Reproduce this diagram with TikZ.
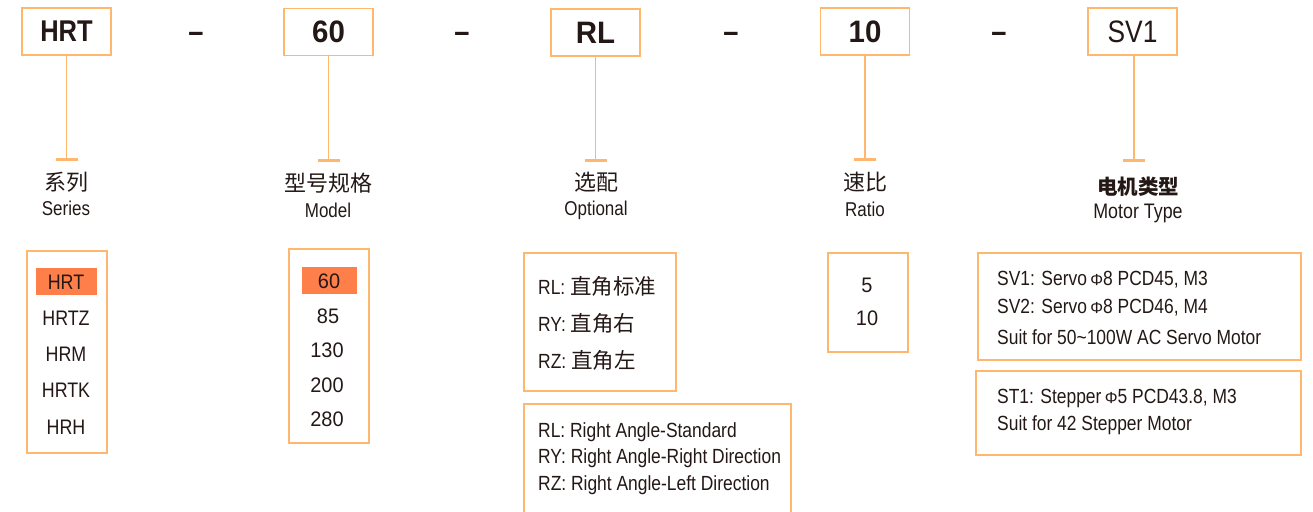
\documentclass[tikz,border=0pt]{standalone}
\usepackage{fontspec}
\setmainfont{Liberation Sans}[FakeStretch=0.85]
\newfontfamily\wide{Liberation Sans}[FakeStretch=0.95]
\newfontfamily\cjk{Noto Sans CJK SC}
\usetikzlibrary{arrows.meta}
\definecolor{bord}{HTML}{FFB66E}
\definecolor{hil}{HTML}{FF7F4A}
\definecolor{ink}{HTML}{231815}
\tikzset{
  codebox/.style={draw=bord, line width=1.6pt, minimum width=89pt, minimum height=47pt, inner sep=0pt, font=\fontsize{30}{30}\selectfont\bfseries, text=ink},
  sep/.style={font=\fontsize{32}{32}\selectfont\bfseries, text=ink, inner sep=0pt},
  tline/.style={draw=bord, line width=1.8pt, -{Bar[width=22pt,line width=3pt]}},
  cn/.style={font=\cjk\fontsize{22}{22}\selectfont, text=ink, inner sep=0pt},
  en/.style={font=\fontsize{20}{20}\selectfont, text=ink, inner sep=0pt},
  frame/.style={draw=bord, line width=1.4pt},
  item/.style={font=\fontsize{21}{21}\selectfont, text=ink, inner sep=0pt},
  ltxt/.style={font=\fontsize{20.5}{20.5}\selectfont, text=ink, inner sep=0pt, anchor=west},
  stxt/.style={font=\fontsize{20.5}{20.5}\selectfont, text=ink, inner sep=0pt, anchor=west},
}
\newcommand{\cjkt}[1]{{\cjk\fontsize{21.5}{21.5}\selectfont #1}}
\newcommand{\phis}{{\fontsize{16}{16}\selectfont\addfontfeature{FakeStretch=1.0}Φ}}
\begin{document}
\begin{tikzpicture}[x=1pt,y=-1pt]
\useasboundingbox (0,0) rectangle (1313,511);
\clip (0,0) rectangle (1313,511);
% top code boxes
\node[codebox] (b1) at (66.5,31.5) {HRT};
\node[codebox, font=\wide\bfseries\fontsize{31}{31}\selectfont] (b2) at (328.5,32) {60};
\node[codebox, font=\wide\bfseries\fontsize{31}{31}\selectfont] (b3) at (595.5,32.5) {RL};
\node[codebox, font=\wide\bfseries\fontsize{31}{31}\selectfont] (b4) at (865,31.5) {10};
\node[codebox, font=\fontsize{31}{31}\selectfont] (b5) at (1132.5,31.5) {SV1};
% separators
\node[sep] (s1) at (196,37.5) {–};
\node[sep] (s2) at (462,37.5) {–};
\node[sep] (s3) at (731,37.5) {–};
\node[sep] (s4) at (999,37.5) {–};
% connector ends
\coordinate (e1) at (66.5,161);
\coordinate (e2) at (328.5,162);
\coordinate (e3) at (595.5,162);
\coordinate (e4) at (865,161);
\coordinate (e5) at (1134,162);
\draw[tline] (b1.south) -- (e1);
\draw[tline] (b2.south) -- (e2);
\draw[tline] (b3.south) -- (e3);
\draw[tline] (b4.south) -- (e4);
\draw[tline] (b5.south -| e5) -- (e5);
% labels
\node[cn] (c1) at (66,182) {系列};
\node[en] (n1) at (66,208) {Series};
\node[cn] (c2) at (328,183) {型号规格};
\node[en] (n2) at (328,210) {Model};
\node[cn] (c3) at (596,182) {选配};
\node[en] (n3) at (596,210) {Optional};
\node[cn] (c4) at (865,182) {速比};
\node[en] (n4) at (865,209) {Ratio};
\node[cn, font=\cjk\bfseries\fontsize{20.5}{20.5}\selectfont] (c5) at (1138,187) {电机类型};
\node[en, font=\fontsize{21}{21}\selectfont] (n5) at (1138,213) {Motor Type};
% series list
\draw[frame] (27,251) rectangle (107,453);
\fill[hil] (36,268) rectangle (97,295);
\node[item] (i11) at (66,282) {HRT};
\node[item] (i12) at (66,318) {HRTZ};
\node[item] (i13) at (66,354) {HRM};
\node[item] (i14) at (66,390) {HRTK};
\node[item] (i15) at (66,427) {HRH};
% model list
\draw[frame] (289,249) rectangle (369,443);
\fill[hil] (302,267) rectangle (357,294);
\node[item, font=\wide\fontsize{21}{21}\selectfont] (i21) at (329,281) {60};
\node[item, font=\wide\fontsize{21}{21}\selectfont] (i22) at (328,316) {85};
\node[item, font=\wide\fontsize{21}{21}\selectfont] (i23) at (327,350) {130};
\node[item, font=\wide\fontsize{21}{21}\selectfont] (i24) at (327,385) {200};
\node[item, font=\wide\fontsize{21}{21}\selectfont] (i25) at (327,419) {280};
% optional cn
\draw[frame] (524,253) rectangle (676,391);
\node[ltxt] (o1) at (538,286) {RL: \cjkt{直角标准}};
\node[ltxt] (o2) at (538,323) {RY: \cjkt{直角右}};
\node[ltxt] (o3) at (538,360) {RZ: \cjkt{直角左}};
% optional en
\draw[frame] (524,404) rectangle (791,530);
\node[stxt] (p1) at (538,432) {RL: Right Angle-Standard};
\node[stxt] (p2) at (538,458) {RY: Right Angle-Right Direction};
\node[stxt] (p3) at (538,485) {RZ: Right Angle-Left Direction};
% ratio
\draw[frame] (828,253) rectangle (908,352);
\node[item, font=\wide\fontsize{21}{21}\selectfont] (r1) at (867,285) {5};
\node[item, font=\wide\fontsize{21}{21}\selectfont] (r2) at (867,318) {10};
% motor
\draw[frame] (978,253) rectangle (1301,360);
\node[stxt] (m1) at (997,280) {SV1: Servo\,\phis8 PCD45, M3};
\node[stxt] (m2) at (997,308) {SV2: Servo\,\phis8 PCD46, M4};
\node[stxt] (m3) at (997,337) {Suit for 50\textasciitilde100W AC Servo Motor};
\draw[frame] (976,371) rectangle (1301,455);
\node[stxt] (m4) at (997,398) {ST1: Stepper\,\phis5 PCD43.8, M3};
\node[stxt] (m5) at (997,425) {Suit for 42 Stepper Motor};
\end{tikzpicture}
\end{document}
